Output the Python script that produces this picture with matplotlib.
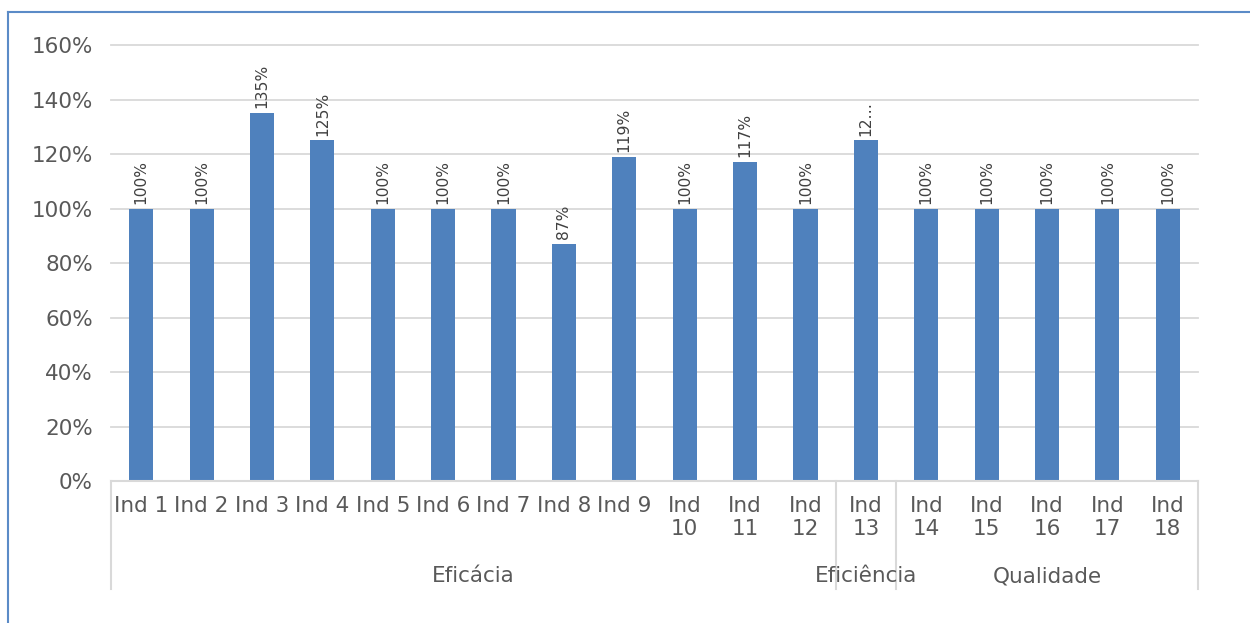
import numpy as np
import matplotlib
matplotlib.use('Agg')
import matplotlib.pyplot as plt
from matplotlib.lines import Line2D

# data
indicators = ["Ind 1", "Ind 2", "Ind 3", "Ind 4", "Ind 5", "Ind 6", "Ind 7", "Ind 8", "Ind 9",
              "Ind\n10", "Ind\n11", "Ind\n12", "Ind\n13", "Ind\n14", "Ind\n15", "Ind\n16",
              "Ind\n17", "Ind\n18"]
values = [1.00, 1.00, 1.35, 1.25, 1.00, 1.00, 1.00, 0.87, 1.19,
          1.00, 1.17, 1.00, 1.25, 1.00, 1.00, 1.00, 1.00, 1.00]
bar_labels = ["100%", "100%", "135%", "125%", "100%", "100%", "100%", "87%", "119%",
              "100%", "117%", "100%", "12\u2026", "100%", "100%", "100%", "100%", "100%"]
groups = ["Eficácia", "Eficiência", "Qualidade"]
group_sizes = [12, 1, 5]

plt.rcParams['font.family'] = ['DejaVu Sans']

fig = plt.figure(figsize=(12.5, 6.23), dpi=100)
ax = fig.add_axes([0.0888, 0.2279, 0.8696, 0.6998])

x = np.arange(len(values))
ax.bar(x, values, width=0.4, color="#4f81bd", zorder=3)

for xi, v, lab in zip(x, values, bar_labels):
    ax.annotate(lab, (xi, v), xytext=(0, 3.5), textcoords="offset points",
                rotation=90, ha="center", va="bottom", fontsize=11.2, color="#404040")

ax.set_xlim(-0.5, len(values) - 0.5)
ax.set_ylim(0, 1.6)
ax.set_yticks(np.arange(0, 1.61, 0.2))
ax.set_yticklabels(["%d%%" % round(t * 100) for t in np.arange(0, 1.61, 0.2)])
ax.set_xticks(x)
ax.set_xticklabels(indicators)
ax.tick_params(axis="both", length=0, labelsize=15.5, labelcolor="#595959")
ax.tick_params(axis="y", pad=13)
ax.tick_params(axis="x", pad=11)

ax.grid(axis="y", color="#d9d9d9", linewidth=1.3, zorder=0)
for gl in ax.get_ygridlines():
    gl.set_clip_on(False)
for s in ["top", "right", "left"]:
    ax.spines[s].set_visible(False)
ax.spines["bottom"].set_color("#d9d9d9")
ax.spines["bottom"].set_linewidth(1.5)
ax.spines["bottom"].set_zorder(4)

# group axis below
trans = ax.get_xaxis_transform()
bounds = np.concatenate([[0], np.cumsum(group_sizes)]) - 0.5
for b in bounds:
    ax.add_line(Line2D([b, b], [0, -0.248], transform=trans, color="#d9d9d9",
                       linewidth=1.5, clip_on=False))
for i, g in enumerate(groups):
    cx = (bounds[i] + bounds[i + 1]) / 2
    ax.text(cx, -0.218, g, transform=trans, ha="center", va="center",
            fontsize=15.5, color="#595959")

# outer frame (top and left edges visible)
fig.add_artist(Line2D([7.5 / 1250, 1], [1 - 11.5 / 623, 1 - 11.5 / 623],
                      transform=fig.transFigure, color="#5b8bc7", linewidth=1.5))
fig.add_artist(Line2D([7.5 / 1250, 7.5 / 1250], [0, 1 - 11.5 / 623],
                      transform=fig.transFigure, color="#5b8bc7", linewidth=1.5))

fig.savefig("out.png", dpi=100)
plt.close()
